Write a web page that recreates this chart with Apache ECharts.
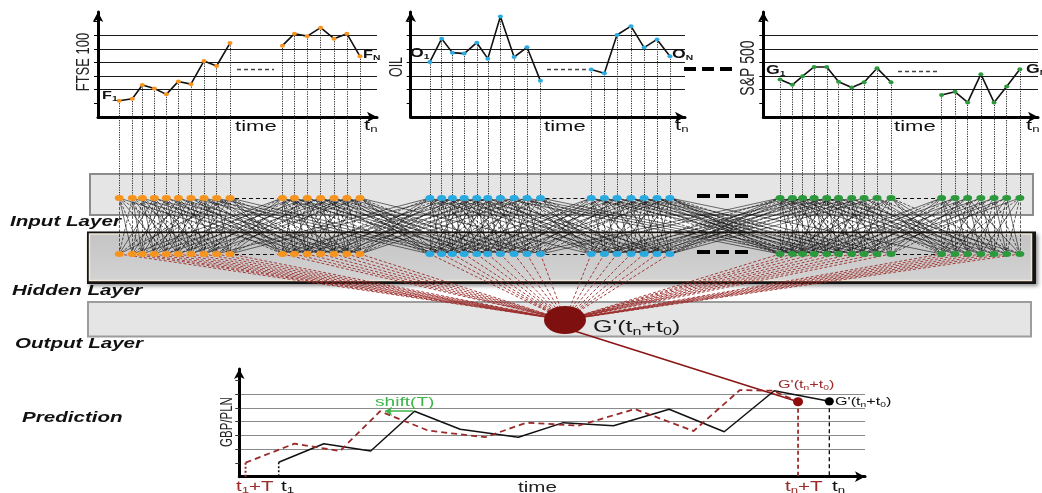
<!DOCTYPE html>
<html><head><meta charset="utf-8">
<script src="https://cdn.jsdelivr.net/npm/echarts@6.0.0/dist/echarts.min.js"></script>
<style>html,body{margin:0;padding:0;background:#fff;}#chart{width:1042px;height:493px;}</style>
</head><body><div id="chart"></div>
<script>
// ---------------- data ----------------
const ftseTime  = [7.6, 12.3, 15.9, 20.2, 24.5, 28.8, 33.3, 38.0, 42.5, 47.3, 66.1, 70.4, 75.0, 79.8, 84.6, 89.2, 93.9];
const ftseValue = [1.19, 1.34, 2.34, 2.09, 1.66, 2.61, 2.41, 4.11, 3.74, 5.42, 5.23, 6.11, 5.93, 6.55, 5.74, 6.11, 4.45];
const oilTime   = [7.0, 11.3, 15.2, 19.5, 24.1, 28.1, 32.7, 37.7, 42.4, 47.3, 65.8, 70.6, 75.2, 80.3, 85.1, 89.8, 94.5];
const oilValue  = [4.04, 5.74, 4.72, 4.65, 5.45, 4.28, 7.37, 4.40, 5.11, 2.65, 3.48, 3.21, 6.01, 6.66, 5.09, 5.69, 4.45];
const spTime    = [6.1, 10.6, 14.3, 18.5, 23.1, 27.4, 32.2, 36.7, 41.4, 46.5, 64.9, 69.8, 74.4, 79.2, 84.0, 88.6, 93.4];
const spValue   = [2.75, 2.36, 2.99, 3.67, 3.67, 2.58, 2.17, 2.55, 3.58, 2.55, 1.61, 1.85, 1.07, 3.14, 1.07, 2.24, 3.50];
const actualTime     = [6.3, 13.5, 21.0, 28.0, 35.3, 44.6, 51.8, 59.8, 68.7, 77.5, 85.5, 94.3];
const actualValue    = [1.05, 2.40, 1.87, 4.76, 3.45, 2.87, 3.93, 3.71, 4.90, 3.27, 6.25, 5.48];
const predictedTime  = [1.0, 8.8, 16.1, 22.5, 30.2, 39.3, 45.9, 54.2, 63.2, 72.6, 80.0, 85.3, 89.3];
const predictedValue = [1.02, 2.40, 1.87, 4.76, 3.35, 2.87, 3.93, 3.71, 4.92, 3.32, 6.30, 6.25, 5.45];
const gridLevels = [1, 2, 3, 4, 5, 6, 7];
const groupSplit = 10;                       // samples before the "-----" gap
const solidLinks  = [-9, -3, 1, 4, 11];      // input i -> hidden i+k
const dashedLinks = [-6, -1, 0, 2, 7];

// ---------------- style ----------------
const SANS = '"Liberation Sans", Arial, sans-serif';
const SX = 1.47;
const ORANGE = '#f7941d', BLUE = '#29abe2', GREEN = '#2c9a3c';
const DARKRED = '#7e1010', RED = '#9b2b2b', SHIFTGREEN = '#3db54a';
const INPUT_Y = 198, HIDDEN_Y = 254, OUT_X = 565, OUT_Y = 320;

const chart = echarts.init(document.getElementById('chart'), null, {renderer: 'canvas'});

function split(t, v) {
  const a = [], b = [];
  t.forEach((x, i) => (i < groupSplit ? a : b).push([x, v[i]]));
  return [a, b];
}
function zip(t, v) { return t.map((x, i) => [x, v[i]]); }

function txt(x, y, parts, o) {
  const size = o.size, color = o.color || '#111', weight = o.weight || 'normal', fstyle = o.style || 'normal';
  const subSize = Math.round(size * 0.62);
  return {
    type: 'text', x: x, y: y, z: 100, silent: true,
    rotation: o.rotate || 0,
    scaleX: o.rotate ? 1 : SX, scaleY: o.rotate ? SX : 1,
    style: {
      text: parts.map(p => (p[1] ? '{s|' : '{m|') + p[0] + '}').join(''),
      align: o.align || 'left', verticalAlign: 'middle', fill: color,
      fontSize: size, fontFamily: SANS, fontWeight: weight, fontStyle: fstyle,
      rich: {
        m: {fontSize: size, fontFamily: SANS, fontWeight: weight, fontStyle: fstyle, fill: color},
        s: {fontSize: subSize, fontFamily: SANS, fontWeight: weight, fontStyle: fstyle, fill: color,
            padding: [Math.round(size * 0.5), 0, 0, 0]}
      }
    }
  };
}
function hline(x1, x2, y, color, width, dash) {
  return {type: 'line', z: 50, silent: true, shape: {x1: x1, y1: y, x2: x2, y2: y},
          style: {stroke: color, lineWidth: width, lineDash: dash}};
}

function topAxes(gi) {
  return {
    x: {gridIndex: gi, type: 'value', min: 0, max: 100,
        axisLine: {show: true, onZero: true, symbol: ['none', 'arrow'], symbolSize: [8, 10], lineStyle: {color: '#000', width: 3}},
        axisTick: {show: false}, axisLabel: {show: false}, splitLine: {show: false}},
    y: {gridIndex: gi, type: 'value', min: 0, max: 7.7, interval: 1,
        axisLine: {show: true, symbol: ['none', 'arrow'], symbolSize: [8, 10], lineStyle: {color: '#000', width: 3}},
        axisTick: {show: true, customValues: gridLevels, length: 4, lineStyle: {color: '#000', width: 1}},
        axisLabel: {show: false},
        splitLine: {show: true, showMinLine: false, showMaxLine: false, lineStyle: {color: '#1a1a1a', width: 1.1}}}
  };
}
const ax = [0, 1, 2].map(topAxes);

function topSeries(gi, t, v, color) {
  return split(t, v).map(d => ({
    type: 'line', xAxisIndex: gi, yAxisIndex: gi, data: d, silent: true, z: 3,
    symbol: 'circle', symbolSize: [5, 4], showSymbol: true,
    lineStyle: {color: '#111', width: 1.6}, itemStyle: {color: color, borderWidth: 0, opacity: 1}
  }));
}

const graphics = [
  // layer boxes
  {type: 'rect', z: -10, silent: true, shape: {x: 90, y: 174, width: 943, height: 41},
   style: {fill: '#e5e5e5', stroke: '#8c8c8c', lineWidth: 2}},
  {type: 'rect', z: -10, silent: true, shape: {x: 87, y: 231.5, width: 949, height: 52.5},
   style: {fill: '#141414', shadowBlur: 4, shadowOffsetX: 2, shadowOffsetY: 2, shadowColor: 'rgba(0,0,0,0.45)'}},
  {type: 'rect', z: -9, silent: true, shape: {x: 89.5, y: 234, width: 942, height: 46.5},
   style: {fill: new echarts.graphic.LinearGradient(0, 0, 0, 1, [{offset: 0, color: '#c4c4c4'}, {offset: 1, color: '#d3d3d3'}]),
           stroke: '#f1e6d8', lineWidth: 1.5}},
  {type: 'rect', z: -10, silent: true, shape: {x: 88, y: 302, width: 943, height: 34.5},
   style: {fill: '#e5e5e5', stroke: '#9c9c9c', lineWidth: 2}},
  // "-----" gaps inside the input charts
  hline(237, 274, 69.5, '#444', 1.4, [4, 3]),
  hline(547, 589, 69.5, '#444', 1.4, [4, 3]),
  hline(898, 937, 71.5, '#444', 1.4, [4, 3]),
  // thick "— — —" between OIL and S&P
  hline(684, 738, 69, '#000', 4, [12, 6]),
  hline(697, 751, 196, '#000', 4, [13, 6]),
  hline(697, 751, 252, '#000', 4, [13, 6]),
  // axis names
  txt(84, 62, [['FTSE 100']], {size: 13, rotate: Math.PI / 2, align: 'center', color: '#222'}),
  txt(397, 67, [['OIL']], {size: 12.5, rotate: Math.PI / 2, align: 'center', color: '#222'}),
  txt(748, 68, [['S&P 500']], {size: 14, rotate: Math.PI / 2, align: 'center', color: '#222'}),
  txt(227, 422, [['GBP/PLN']], {size: 11.5, rotate: Math.PI / 2, align: 'center', color: '#222'}),
  // series end labels
  txt(102, 96, [['F', 0], ['1', 1]], {size: 11, weight: 'bold'}),
  txt(363, 55, [['F', 0], ['N', 1]], {size: 11, weight: 'bold'}),
  txt(410, 54, [['O', 0], ['1', 1]], {size: 12, weight: 'bold'}),
  txt(672, 55, [['O', 0], ['N', 1]], {size: 12, weight: 'bold'}),
  txt(766, 71, [['G', 0], ['1', 1]], {size: 12, weight: 'bold'}),
  txt(1026, 70, [['G', 0], ['N', 1]], {size: 12, weight: 'bold'}),
  // time axes
  txt(235, 127, [['time']], {size: 15}),
  txt(364, 126, [['t', 0], ['n', 1]], {size: 15}),
  txt(544, 127, [['time']], {size: 15}),
  txt(675, 126, [['t', 0], ['n', 1]], {size: 15}),
  txt(894, 127, [['time']], {size: 15}),
  txt(1026, 126, [['t', 0], ['n', 1]], {size: 15}),
  // layer names
  txt(10, 222, [['Input Layer']], {size: 14, weight: 'bold', style: 'italic'}),
  txt(12, 291, [['Hidden Layer']], {size: 14, weight: 'bold', style: 'italic'}),
  txt(15, 344, [['Output Layer']], {size: 14, weight: 'bold', style: 'italic'}),
  txt(22, 418, [['Prediction']], {size: 14, weight: 'bold', style: 'italic'}),
  // output node label
  txt(593, 327, [["G'(t", 0], ['n', 1], ['+t', 0], ['0', 1], [')', 0]], {size: 17, color: '#1a1a1a'}),
  // prediction labels
  txt(375, 402, [['shift(T)']], {size: 13, color: SHIFTGREEN}),
  txt(778, 385, [["G'(t", 0], ['n', 1], ['+t', 0], ['0', 1], [')', 0]], {size: 11, color: RED}),
  txt(835, 402, [["G'(t", 0], ['n', 1], ['+t', 0], ['0', 1], [')', 0]], {size: 11, color: '#111'}),
  txt(236, 487, [['t', 0], ['1', 1], ['+T', 0]], {size: 14, color: RED}),
  txt(281, 487, [['t', 0], ['1', 1]], {size: 14, color: '#111'}),
  txt(518, 488, [['time']], {size: 14, color: '#222'}),
  txt(785, 487, [['t', 0], ['n', 1], ['+T', 0]], {size: 14, color: RED}),
  txt(832, 487, [['t', 0], ['n', 1]], {size: 14, color: '#111'})
];

const lastA = actualTime.length - 1, lastP = predictedTime.length - 1;
function drop(t, v, color, width, dash) {
  return {type: 'line', xAxisIndex: 3, yAxisIndex: 3, data: [[t, v], [t, 0]], symbol: 'none', silent: true, z: 3,
          lineStyle: {color: color, width: width, type: dash}};
}

const baseSeries = [
  ...topSeries(0, ftseTime, ftseValue, ORANGE),
  ...topSeries(1, oilTime, oilValue, BLUE),
  ...topSeries(2, spTime, spValue, GREEN),
  {type: 'line', xAxisIndex: 3, yAxisIndex: 3, data: zip(actualTime, actualValue), symbol: 'none', silent: true, z: 4,
   lineStyle: {color: '#111', width: 1.5}},
  {type: 'line', xAxisIndex: 3, yAxisIndex: 3, data: zip(predictedTime, predictedValue), symbol: 'none', silent: true, z: 4,
   lineStyle: {color: RED, width: 1.8, type: [6, 4]}},
  drop(predictedTime[0], predictedValue[0], RED, 2, [2, 2]),
  drop(actualTime[0], actualValue[0], '#111', 1.6, [2, 2]),
  drop(predictedTime[lastP], predictedValue[lastP], RED, 1.8, [4, 3]),
  drop(actualTime[lastA], actualValue[lastA], '#111', 1.4, [4, 3]),
  {type: 'scatter', xAxisIndex: 3, yAxisIndex: 3, silent: true, z: 6, symbolSize: [10, 9],
   data: [{value: [predictedTime[lastP], predictedValue[lastP]], itemStyle: {color: '#8e0c0c', opacity: 1}},
          {value: [actualTime[lastA], actualValue[lastA]], itemStyle: {color: '#000', opacity: 1}, symbolSize: [9, 8]}]},
  {type: 'lines', coordinateSystem: 'cartesian2d', xAxisIndex: 3, yAxisIndex: 3, silent: true, z: 6,
   symbol: ['none', 'arrow'], symbolSize: 7,
   lineStyle: {color: SHIFTGREEN, width: 1.6, opacity: 1},
   data: [{coords: [[actualTime[3] - 0.2, actualValue[3]], [predictedTime[3] + 0.8, predictedValue[3]]]}]}
];

const option = {
  animation: false,
  backgroundColor: '#fff',
  grid: [
    {left: 98, top: 12, width: 279, height: 105},
    {left: 410.7, top: 12, width: 274.3, height: 105},
    {left: 763.3, top: 12, width: 274.7, height: 105},
    {left: 239.3, top: 369, width: 625.7, height: 107.7},
    {left: 0, top: 0, width: 1042, height: 493}
  ],
  xAxis: [ax[0].x, ax[1].x, ax[2].x,
    {gridIndex: 3, type: 'value', min: 0, max: 100,
     axisLine: {show: true, onZero: true, symbol: ['none', 'arrow'], symbolSize: [8, 10], lineStyle: {color: '#000', width: 3}},
     axisTick: {show: false}, axisLabel: {show: false}, splitLine: {show: false}},
    {gridIndex: 4, type: 'value', min: 0, max: 1042, show: false}
  ],
  yAxis: [ax[0].y, ax[1].y, ax[2].y,
    {gridIndex: 3, type: 'value', min: 0, max: 7.83, interval: 1,
     axisLine: {show: true, symbol: ['none', 'arrow'], symbolSize: [8, 10], lineStyle: {color: '#000', width: 3}},
     axisTick: {show: true, customValues: gridLevels, length: 4, lineStyle: {color: '#333', width: 1}},
     axisLabel: {show: false},
     splitLine: {show: true, showMinLine: false, showMaxLine: false, lineStyle: {color: '#8a8a8a', width: 1.1}}},
    {gridIndex: 4, type: 'value', min: 0, max: 493, inverse: true, show: false}
  ],
  graphic: {elements: graphics},
  series: baseSeries.slice()
};

chart.setOption(option);

// ---------- network built from the data points via the library's scales ----------
const groupsDef = [
  {time: ftseTime, value: ftseValue, grid: 0, color: ORANGE},
  {time: oilTime, value: oilValue, grid: 1, color: BLUE},
  {time: spTime, value: spValue, grid: 2, color: GREEN}
];
const nodes = [];
groupsDef.forEach((g, gi) => g.time.forEach((t, i) => {
  const px = chart.convertToPixel({gridIndex: g.grid}, [t, g.value[i]]);
  const o = chart.convertFromPixel({gridIndex: 4}, px);
  nodes.push({x: o[0], y: o[1], color: g.color, group: gi, idx: i});
}));
const N = nodes.length;

const dropLines = nodes.map(n => ({coords: [[n.x, n.y], [n.x, INPUT_Y]]}));
function links(offs) {
  const out = [];
  nodes.forEach((n, i) => offs.forEach(k => {
    const j = i + k;
    if (j >= 0 && j < N) out.push({coords: [[n.x, INPUT_Y], [nodes[j].x, HIDDEN_Y]]});
  }));
  return out;
}
const gapLines = [];
groupsDef.forEach((g, gi) => {
  const a = nodes[gi * g.time.length + groupSplit - 1], b = nodes[gi * g.time.length + groupSplit];
  [INPUT_Y, HIDDEN_Y].forEach(y => gapLines.push({coords: [[a.x + 5, y], [b.x - 5, y]]}));
});
const fan = nodes.map(n => ({coords: [[n.x, HIDDEN_Y], [OUT_X, OUT_Y]]}));
const redDotPx = chart.convertToPixel({gridIndex: 3}, [predictedTime[lastP], predictedValue[lastP]]);
const redDot = chart.convertFromPixel({gridIndex: 4}, redDotPx);

function overlayLines(data, ls, z) {
  return {type: 'lines', coordinateSystem: 'cartesian2d', xAxisIndex: 4, yAxisIndex: 4, silent: true,
          polyline: false, z: z, symbol: 'none', lineStyle: ls, data: data};
}
option.series = baseSeries.concat([
  overlayLines(dropLines, {color: '#222', width: 1, type: [1.2, 1.2], opacity: 0.95}, 2),
  overlayLines(links(solidLinks), {color: '#111', width: 0.7, opacity: 0.85}, 2),
  overlayLines(links(dashedLinks), {color: '#111', width: 0.8, type: [3, 1.5], opacity: 0.85}, 2),
  overlayLines(gapLines, {color: '#111', width: 1.2, type: [4, 3], opacity: 1}, 2),
  overlayLines(fan, {color: '#9a2a28', width: 0.9, type: [3, 2], opacity: 1}, 2),
  overlayLines([{coords: [[OUT_X, OUT_Y + 8], redDot]}], {color: '#8a1414', width: 1.5, opacity: 1}, 3),
  {type: 'scatter', xAxisIndex: 4, yAxisIndex: 4, silent: true, z: 5, symbol: 'circle', symbolSize: [9, 6],
   data: nodes.map(n => ({value: [n.x, INPUT_Y], itemStyle: {color: n.color, opacity: 1}}))},
  {type: 'scatter', xAxisIndex: 4, yAxisIndex: 4, silent: true, z: 5, symbol: 'circle', symbolSize: [9, 6],
   data: nodes.map(n => ({value: [n.x, HIDDEN_Y], itemStyle: {color: n.color, opacity: 1}}))},
  {type: 'scatter', xAxisIndex: 4, yAxisIndex: 4, silent: true, z: 6, symbol: 'circle', symbolSize: [42, 28],
   data: [{value: [OUT_X, OUT_Y], itemStyle: {color: DARKRED, opacity: 1}}]}
]);
chart.setOption(option, true);
</script></body></html>
